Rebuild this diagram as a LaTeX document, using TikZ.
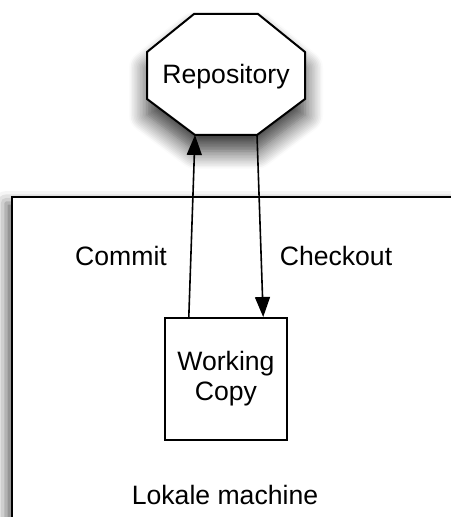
\documentclass[tikz,border=0pt]{standalone}
\usepackage{fontspec}
\setmainfont{Liberation Sans}
\usetikzlibrary{calc,arrows.meta,shadows.blur}
\tikzset{
  outline/.style={draw=black, line width=1pt, line join=miter, fill=white},
  flow/.style={draw=black, line width=0.8pt, -{Triangle[length=10pt,width=7.5pt]}},
  lab/.style={font=\fontsize{13.3}{15}\selectfont, align=center, inner sep=0pt},
  repshadow/.style={blur shadow={shadow xshift=0pt, shadow yshift=-8pt, shadow blur radius=9pt, shadow blur steps=12, shadow opacity=80}},
  boxshadow/.style={blur shadow={shadow xshift=-3pt, shadow yshift=-3pt, shadow blur radius=6pt, shadow opacity=60}},
}
\begin{document}
\begin{tikzpicture}[x=0.5pt,y=-0.5pt]
  \useasboundingbox (0,0) rectangle (450,517);
  % machine frame, runs off the right and bottom edge
  \draw[outline,boxshadow] (12,197) rectangle (490,570);
  % octagon corners, clockwise from top left
  \coordinate (r1) at (194,14);
  \coordinate (r2) at (258,14);
  \coordinate (r3) at (305,52);
  \coordinate (r4) at (305,99);
  \coordinate (r5) at (257,135);
  \coordinate (r6) at (195,135);
  \coordinate (r7) at (147,99);
  \coordinate (r8) at (147,52);
  \draw[outline,repshadow] (r1)--(r2)--(r3)--(r4)--(r5)--(r6)--(r7)--(r8)--cycle;
  \node[lab] (repo) at (226,77) {Repository};
  \node[outline,lab,minimum width=61pt,minimum height=61pt] (wc) at (226,379) {Working\\Copy};
  \coordinate (wc-out) at ($(wc.north west)!0.2!(wc.north east)$);
  \coordinate (wc-in) at ($(wc.north west)!0.8!(wc.north east)$);
  \draw[flow] (wc-out) -- (r6);
  \draw[flow] (r5) -- (wc-in);
  \node[lab] (commit) at (121,256) {Commit};
  \node[lab] (checkout) at (336,256) {Checkout};
  \node[lab] (machine) at (225,495) {Lokale machine};
\end{tikzpicture}
\end{document}
